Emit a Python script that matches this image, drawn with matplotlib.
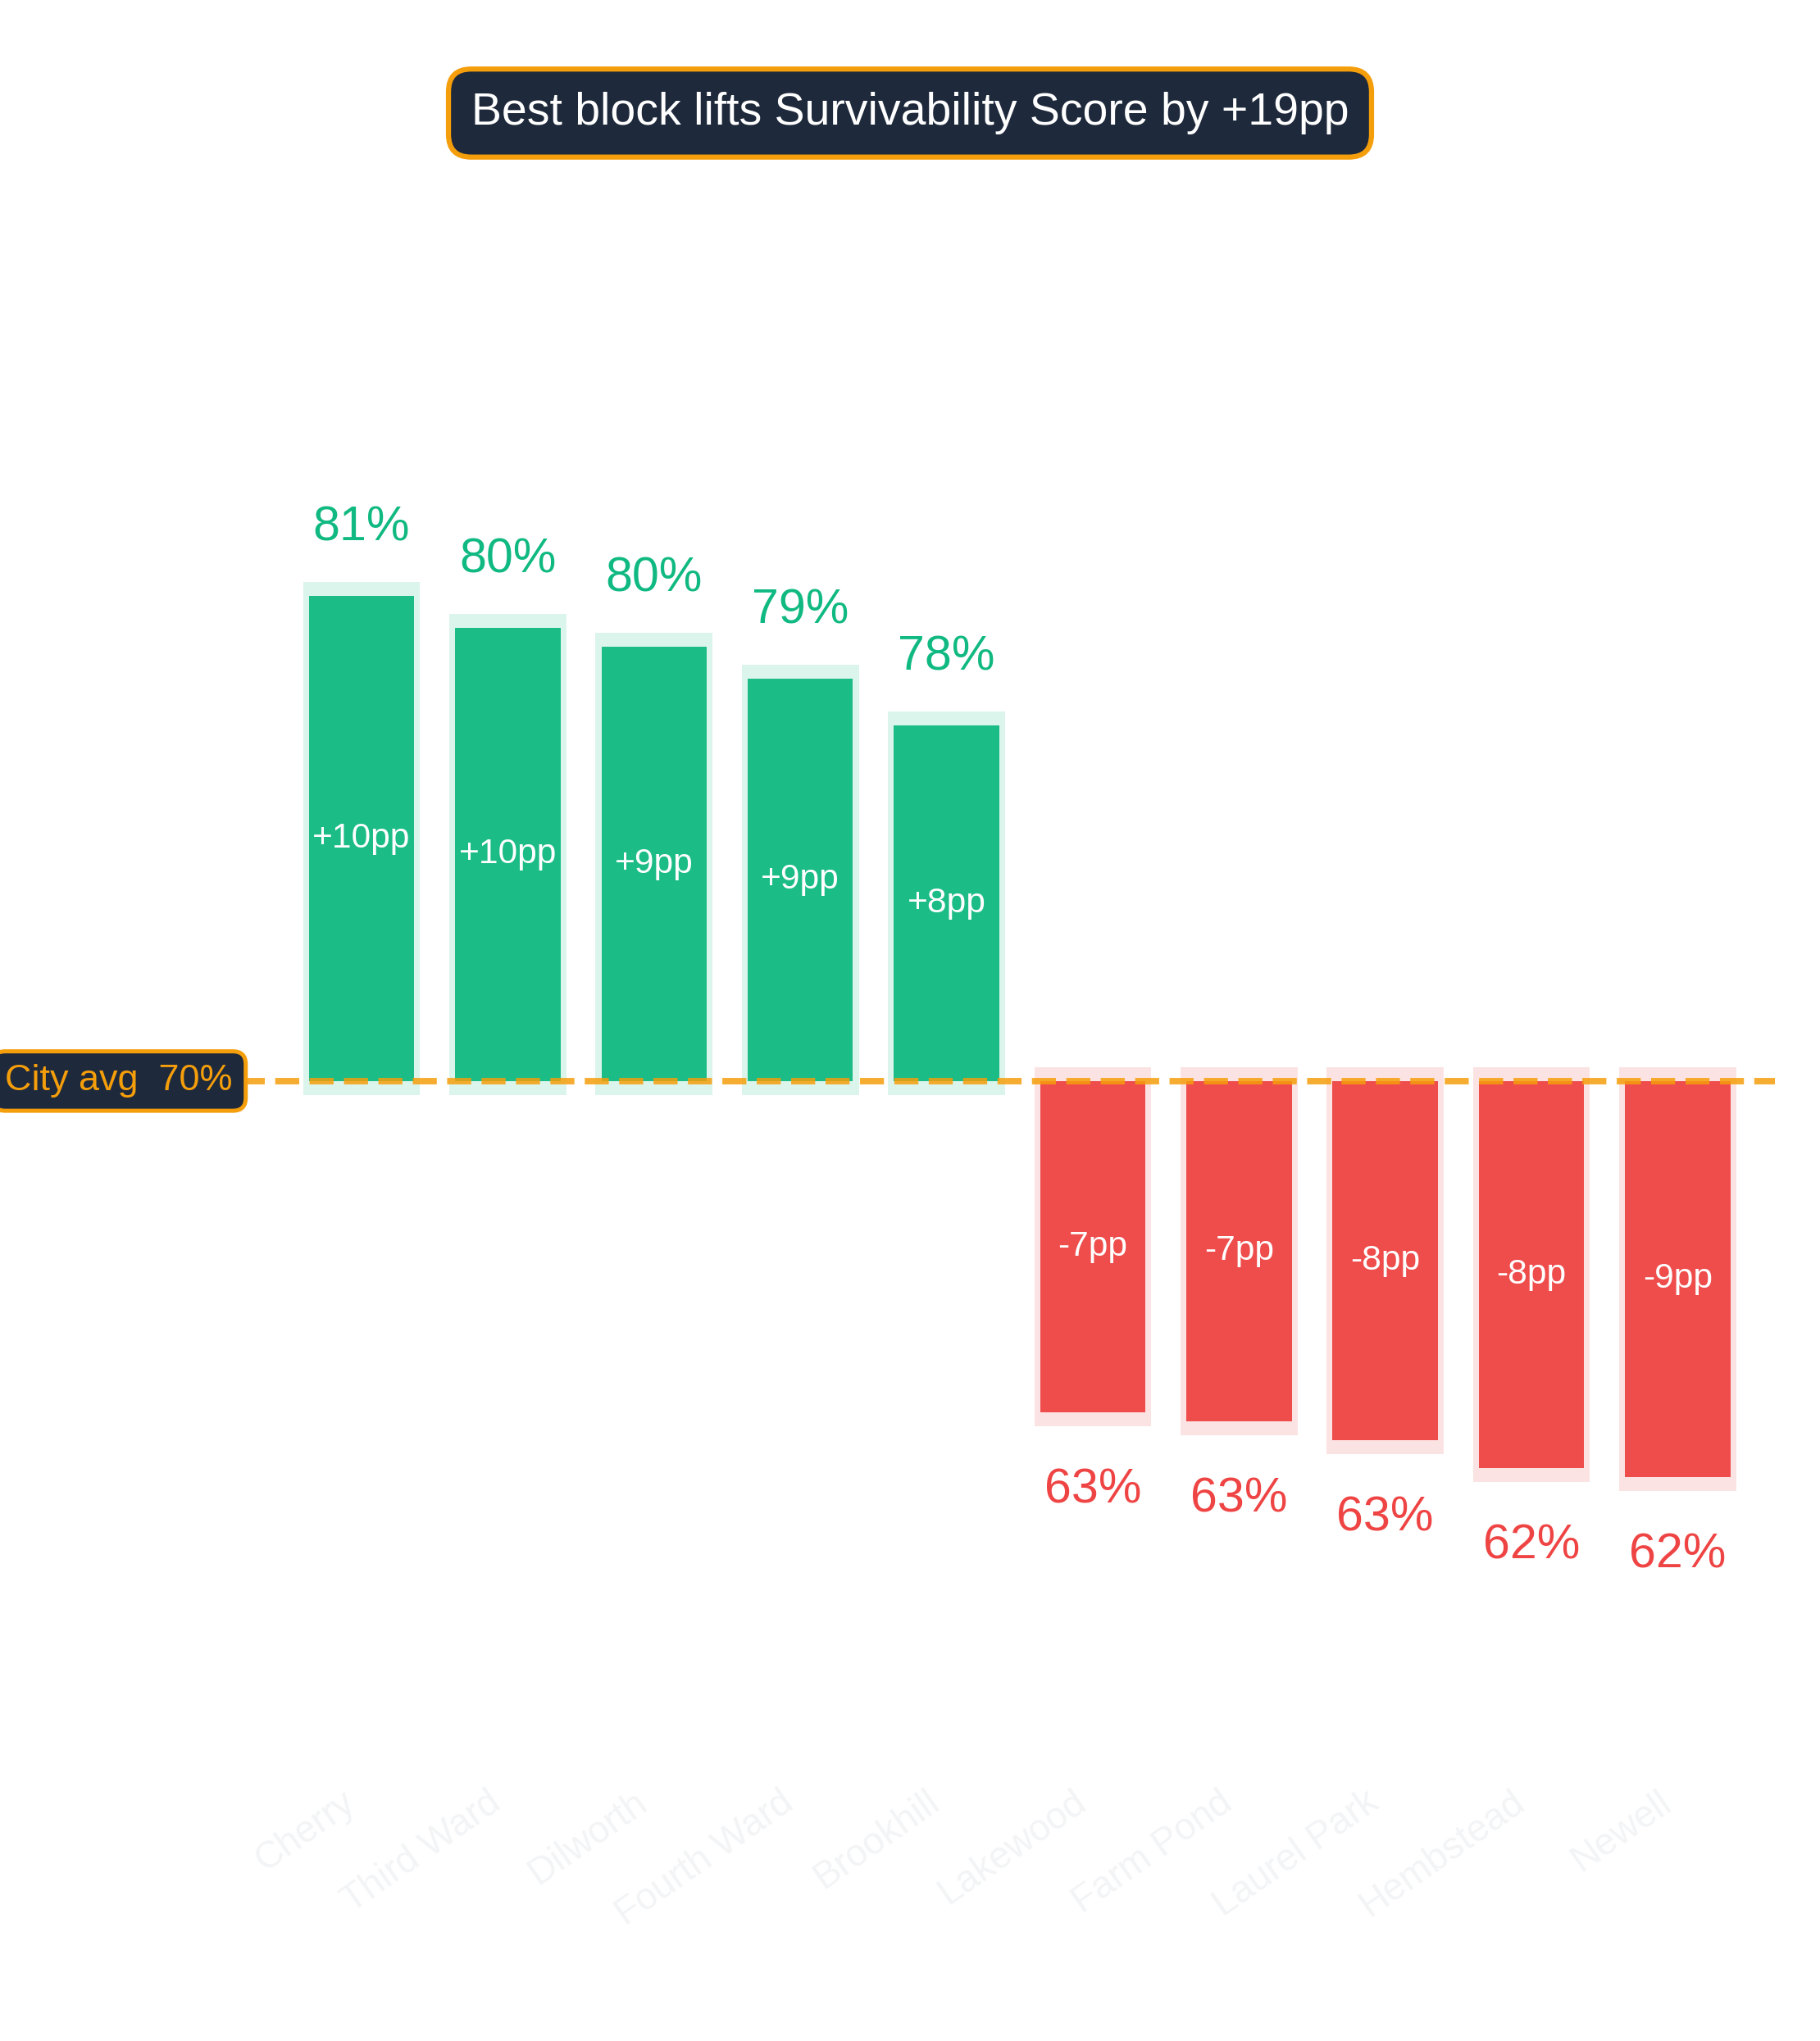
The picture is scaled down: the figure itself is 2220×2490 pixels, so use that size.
import numpy as np
import matplotlib
matplotlib.use('Agg')
import matplotlib.pyplot as plt

plt.rcParams['font.family'] = ['Liberation Sans', 'DejaVu Sans']

# data
neighborhoods = ['Cherry', 'Third Ward', 'Dilworth', 'Fourth Ward', 'Brookhill',
                 'Lakewood', 'Farm Pond', 'Laurel Park', 'Hembstead', 'Newell']
scores = np.array([80.86, 80.17, 79.76, 79.07, 78.07, 63.26, 63.07, 62.66, 62.06, 61.87])
city_avg = 70.4
title = 'Best block lifts Survivability Score by +19pp'

green = '#10b981'
red = '#ef4444'
orange = '#f59e0b'
navy = '#1e293b'

deltas = scores - city_avg
x = np.arange(len(neighborhoods))
up = deltas >= 0
colors = np.where(up, green, red)
sign = np.where(up, 1.0, -1.0)

fig = plt.figure(figsize=(7.4, 8.3), dpi=300)
ax = fig.add_axes([0.0, 0.1325, 0.9752, 0.735])

# soft halo behind each bar
halo = 0.3
ax.bar(x, deltas + sign * 2 * halo, bottom=city_avg - sign * halo, width=0.8,
       color=colors, alpha=0.15, zorder=2, linewidth=0)
ax.bar(x, deltas, bottom=city_avg, width=0.72, color=colors, alpha=0.95,
       zorder=3, linewidth=0)

ax.axhline(city_avg, color=orange, lw=1.9, ls='--', alpha=0.85, zorder=4)

for xi, s, d, c in zip(x, scores, deltas, colors):
    ax.text(xi, city_avg + d / 2, f'{d:+.0f}pp', ha='center', va='center',
            color='white', fontsize=10.2, zorder=5)
    if d >= 0:
        ax.annotate(f'{s:.0f}%', (xi, s), xytext=(0, 13.3), textcoords='offset points',
                    ha='center', va='bottom', color=c, fontsize=14.2)
    else:
        ax.annotate(f'{s:.0f}%', (xi, s), xytext=(0, -16.3), textcoords='offset points',
                    ha='center', va='top', color=c, fontsize=14.2)

ax.text(-0.88, city_avg, f'City avg  {city_avg:.0f}%', ha='right', va='center',
        color=orange, fontsize=10.8, zorder=6,
        bbox=dict(boxstyle='round,pad=0.35', fc=navy, ec=orange, lw=1.2))

ax.set_xlim(-2.472, 9.664)
ax.set_ylim(55.54, 87.87)
ax.set_xticks(x)
ax.set_xticklabels(neighborhoods, rotation=35, ha='right', color='#f3f4f6', fontsize=11)
ax.tick_params(axis='x', length=0, pad=4)
ax.set_yticks([])
for sp in ax.spines.values():
    sp.set_visible(False)

fig.text(0.5, 0.9446, title, ha='center', va='center', color='white', fontsize=13.3,
         bbox=dict(boxstyle='round,pad=0.5', fc=navy, ec=orange, lw=1.5))

fig.savefig('out.png', dpi=300, facecolor='white')
